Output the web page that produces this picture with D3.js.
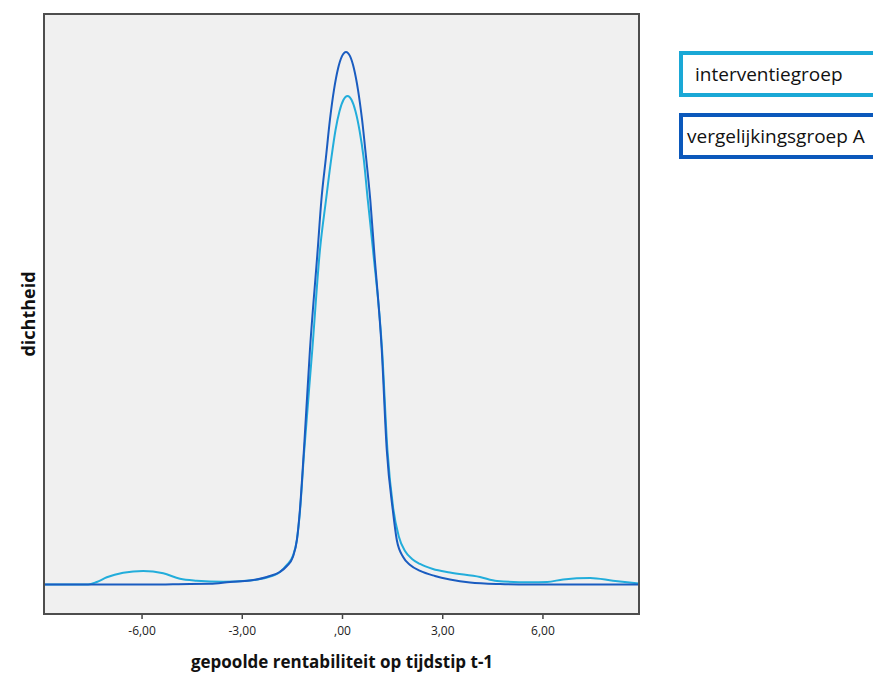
<!DOCTYPE html>
<html>
<head>
<meta charset="utf-8">
<script src="https://cdn.jsdelivr.net/npm/d3@7"></script>
<style>
  html, body { margin: 0; padding: 0; background: #fff; }
  svg { display: block; }
</style>
</head>
<body>
<svg id="chart" width="873" height="673"></svg>
<script>
// Kernel density estimates of pooled profitability at t-1, per group
const rentabiliteit_interventie = [-8.92, -7.60, -7.34, -7.04, -6.55, -5.95, -5.35, -4.85, -4.35, -3.55, -2.85, -2.25, -1.86, -1.65, -1.47, -1.35, -1.26, -1.14, -0.89, -0.66, -0.479, -0.314, -0.195, -0.075, 0.045, 0.165, 0.284, 0.404, 0.524, 0.644, 0.772, 0.928, 1.20, 1.36, 1.53, 1.70, 1.886, 2.096, 2.335, 2.72, 3.23, 4.13, 4.64, 5.63, 6.14, 6.62, 7.43, 8.11, 8.89];
const dichtheid_interventie   = [0, 0, 0.0021, 0.0060, 0.0098, 0.0113, 0.0093, 0.0048, 0.0032, 0.0023, 0.0032, 0.0058, 0.0104, 0.0163, 0.0238, 0.0371, 0.0604, 0.1079, 0.1954, 0.2788, 0.3204, 0.3563, 0.3785, 0.3944, 0.4039, 0.4071, 0.4039, 0.3944, 0.3785, 0.3563, 0.3204, 0.2788, 0.1954, 0.1121, 0.0640, 0.0400, 0.0279, 0.0213, 0.0171, 0.0129, 0.0100, 0.0063, 0.0029, 0.0018, 0.0021, 0.0042, 0.0054, 0.0032, 0.0008];

const rentabiliteit_vergelijking = [-8.92, -5.75, -4.55, -3.95, -3.35, -2.75, -2.25, -1.86, -1.65, -1.47, -1.35, -1.26, -1.14, -0.96, -0.728, -0.617, -0.479, -0.359, -0.240, -0.120, 0.000, 0.120, 0.240, 0.359, 0.479, 0.599, 0.719, 0.847, 0.96, 1.19, 1.34, 1.52, 1.64, 1.83, 2.04, 2.34, 2.78, 3.23, 3.83, 4.73, 5.63, 8.89];
const dichtheid_vergelijking   = [0, 0, 0.0005, 0.0006, 0.0021, 0.0033, 0.0063, 0.0104, 0.0154, 0.0229, 0.0371, 0.0621, 0.1121, 0.1954, 0.2788, 0.3204, 0.3563, 0.3877, 0.4122, 0.4298, 0.4403, 0.4438, 0.4403, 0.4298, 0.4122, 0.3877, 0.3563, 0.3204, 0.2788, 0.1954, 0.1121, 0.0621, 0.0371, 0.0229, 0.0163, 0.0113, 0.0071, 0.0042, 0.0017, 0.0004, 0, 0];

const groepen     = ["interventiegroep", "vergelijkingsgroep A"];
const kleuren     = ["#22addb", "#1a5cc0"];
const randKleuren = ["#1aa8d6", "#0b58bb"];

const tickValues = [-6, -3, 0, 3, 6];
const tickLabels = ["-6,00", "-3,00", ",00", "3,00", "6,00"];

const xTitel = "gepoolde rentabiliteit op tijdstip t-1";
const yTitel = "dichtheid";

const svg = d3.select("#chart");
const plot = { left: 44, right: 639, top: 14, bottom: 614 };

const x = d3.scaleLinear().domain([-8.92, 8.89]).range([plot.left, plot.right]);
const y = d3.scaleLinear().domain([-0.0246, 0.4754]).range([plot.bottom, plot.top]);

// plot background
svg.append("rect")
  .attr("x", plot.left).attr("y", plot.top)
  .attr("width", plot.right - plot.left).attr("height", plot.bottom - plot.top)
  .attr("fill", "#f0f0f0");

svg.append("clipPath").attr("id", "clip")
  .append("rect")
  .attr("x", plot.left).attr("y", plot.top)
  .attr("width", plot.right - plot.left).attr("height", plot.bottom - plot.top);

const series = [
  { naam: groepen[0], x: rentabiliteit_interventie, d: dichtheid_interventie, kleur: kleuren[0] },
  { naam: groepen[1], x: rentabiliteit_vergelijking, d: dichtheid_vergelijking, kleur: kleuren[1] }
];

const line = d3.line()
  .x(p => x(p[0]))
  .y(p => y(p[1]))
  .curve(d3.curveMonotoneX);

const g = svg.append("g").attr("clip-path", "url(#clip)");
series.forEach(s => {
  g.append("path")
    .datum(s.x.map((v, i) => [v, s.d[i]]))
    .attr("d", line)
    .attr("fill", "none")
    .attr("stroke", s.kleur)
    .attr("stroke-width", 2);
});

// x axis
const xAxis = d3.axisBottom(x)
  .tickValues(tickValues)
  .tickFormat((v, i) => tickLabels[i])
  .tickSizeInner(5)
  .tickSizeOuter(0)
  .tickPadding(7);

const ax = svg.append("g")
  .attr("transform", `translate(0,${plot.bottom})`)
  .call(xAxis);
ax.select(".domain").remove();
ax.selectAll(".tick line").attr("stroke", "#444").attr("stroke-width", 1.5);
ax.selectAll(".tick text")
  .attr("fill", "#222")
  .style("font-family", "'Open Sans', sans-serif")
  .style("font-size", "12px");

// plot frame
svg.append("rect")
  .attr("x", plot.left).attr("y", plot.top)
  .attr("width", plot.right - plot.left).attr("height", plot.bottom - plot.top)
  .attr("fill", "none")
  .attr("stroke", "#4d4d4d")
  .attr("stroke-width", 2);

// axis titles
svg.append("text")
  .attr("x", 342).attr("y", 668)
  .attr("text-anchor", "middle")
  .style("font-family", "'Open Sans', sans-serif")
  .style("font-weight", "bold")
  .style("font-size", "17px")
  .attr("fill", "#111")
  .text(xTitel);

svg.append("text")
  .attr("transform", "translate(35,314) rotate(-90)")
  .attr("text-anchor", "middle")
  .style("font-family", "'Open Sans', sans-serif")
  .style("font-weight", "bold")
  .style("font-size", "18px")
  .attr("fill", "#111")
  .text(yTitel);

// legend
const legend = svg.append("g");
groepen.forEach((naam, i) => {
  const top = 53 + i * 62;
  legend.append("rect")
    .attr("x", 681).attr("y", top)
    .attr("width", 210).attr("height", 42)
    .attr("fill", "#fff")
    .attr("stroke", randKleuren[i])
    .attr("stroke-width", 4);
  legend.append("text")
    .attr("x", i === 0 ? 695 : 687)
    .attr("y", top + 28)
    .style("font-family", "'Open Sans', sans-serif")
    .style("font-size", "19px")
    .attr("fill", "#111")
    .text(naam);
});
</script>
</body>
</html>
